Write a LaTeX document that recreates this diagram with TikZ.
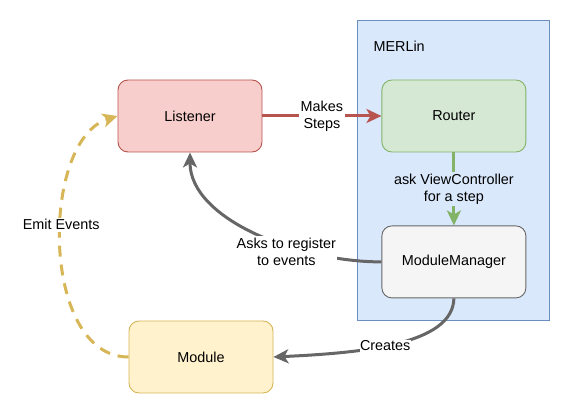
\documentclass[tikz,border=0pt]{standalone}
\usepackage{fontspec}
\setmainfont{Liberation Sans}
\usetikzlibrary{arrows.meta, positioning}

\definecolor{redfill}{HTML}{F8CECC}
\definecolor{redline}{HTML}{B85450}
\definecolor{greenfill}{HTML}{D5E8D4}
\definecolor{greenline}{HTML}{82B366}
\definecolor{grayfill}{HTML}{F5F5F5}
\definecolor{grayline}{HTML}{666666}
\definecolor{yellowfill}{HTML}{FFF2CC}
\definecolor{yellowline}{HTML}{D6B656}
\definecolor{bluefill}{HTML}{DAE8FC}
\definecolor{blueline}{HTML}{6C8EBF}

\begin{document}
\begin{tikzpicture}[
  x=1pt, y=1pt,
  font=\fontsize{14.4}{17}\selectfont,
  box/.style = {draw, line width=0.9pt, rounded corners=10pt, minimum width=144pt, minimum height=72pt, align=center},
  container/.style = {draw=blueline, fill=bluefill, line width=0.9pt, minimum width=192pt, minimum height=300pt},
  arrow/.style = {-{Stealth[length=15pt, width=14pt, inset=4pt]}, line width=3pt},
  lbl/.style = {fill=white, text=black, inner sep=1.5pt, align=center},
  node distance=73pt and 119pt
]
\useasboundingbox (0,0) rectangle (571,-414);

% Container for MERLin
\node[container] (merlin) at (453,-170) {};
\node[anchor=west] (merlinlbl) at (370,-46) {MERLin};

% Nodes
\node[box, fill=redfill, draw=redline] (listener) at (190,-116) {Listener};
\node[box, fill=greenfill, draw=greenline, right=of listener] (router) {Router};
\node[box, fill=grayfill, draw=grayline, below=of router] (manager) {ModuleManager};
\node[box, fill=yellowfill, draw=yellowline] (module) at (201,-357) {Module};

% Arrows
\draw[arrow, redline] (listener) -- node[lbl] {Makes\\Steps} (router);
\draw[arrow, greenline] (router) -- node[lbl, fill=bluefill] {ask ViewController\\for a step} (manager);
\draw[arrow, grayline] (manager.west) .. controls (300,-262) and (190,-220) .. node[lbl, pos=0.37, yshift=-6pt] {Asks to register\\to events} (listener.south);
\draw[arrow, grayline] (manager.south) .. controls (453,-345) and (360,-353) .. node[lbl, pos=0.55, inner sep=0.5pt] {Creates} (module.east);
\draw[arrow, yellowline, dash pattern=on 11pt off 8pt] (module.west) .. controls (40,-357) and (40,-140) .. node[lbl, pos=0.56] {Emit Events} (listener.west);
\end{tikzpicture}
\end{document}
